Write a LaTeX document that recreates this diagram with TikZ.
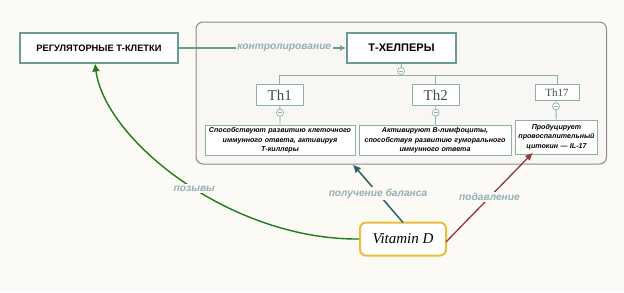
\documentclass[tikz,border=0pt]{standalone}
\usepackage{fontspec}
\setmainfont{Liberation Serif}
\newfontfamily\hsans{Liberation Sans}
\usetikzlibrary{arrows.meta,calc}
\definecolor{bgc}{HTML}{FCFAF4}
\definecolor{contc}{HTML}{F8F7F3}
\definecolor{contb}{HTML}{8C8C8C}
\definecolor{tealb}{HTML}{6B9A94}
\definecolor{teall}{HTML}{8DB0A9}
\definecolor{lblc}{HTML}{93AFB9}
\definecolor{greenc}{HTML}{1E7B1E}
\definecolor{darkt}{HTML}{2E5E6C}
\definecolor{redc}{HTML}{8B3A3A}
\definecolor{yelc}{HTML}{EBBE3A}
\definecolor{thc}{HTML}{4A4A4A}
\tikzset{
  mainbox/.style={draw=tealb, line width=2pt, fill=white, minimum height=30pt, inner sep=0pt},
  thbox/.style={draw=teall, line width=0.9pt, fill=white, inner sep=0pt, text=thc},
  descbox/.style={draw=teall, line width=0.9pt, fill=white, inner sep=0pt, align=center, font=\hsans\bfseries\itshape\fontsize{7.1}{9.3}\selectfont},
  mcirc/.style={circle, draw=teall, line width=0.7pt, fill=white, minimum size=7pt, inner sep=0pt, path picture={\draw[teall, line width=0.6pt] ($(path picture bounding box.center)+(-1.8pt,0)$) -- ($(path picture bounding box.center)+(1.8pt,0)$);}},
  tline/.style={draw=teall, line width=0.9pt},
  lbl/.style={fill=bgc, inner sep=1.5pt, text=lblc, font=\hsans\bfseries\itshape\fontsize{10.2}{12}\selectfont},
}
\begin{document}
\begin{tikzpicture}[x=1pt,y=-1pt]
\useasboundingbox (0,0) rectangle (624,292);
\fill[bgc] (0,0) rectangle (624,292);
\draw[contb, line width=1pt, fill=contc, rounded corners=7pt] (196,22) rectangle (606.5,164);

\node[mainbox, minimum width=158pt, font=\hsans\bfseries\fontsize{9.3}{11}\selectfont] (reg) at (99,48) {РЕГУЛЯТОРНЫЕ Т-КЛЕТКИ};
\node[mainbox, minimum width=109pt, font=\hsans\bfseries\fontsize{11}{13}\selectfont] (helper) at (401.5,48) {Т-ХЕЛПЕРЫ};

\node[mcirc] (c0) at (401,71) {};
\coordinate (j) at (401,75.5);
\node[thbox, minimum width=47pt, minimum height=21.5pt, font=\fontsize{15}{16}\selectfont] (th1) at (279.7,95.1) {Th1};
\node[thbox, minimum width=47pt, minimum height=21.5pt, font=\fontsize{15}{16}\selectfont] (th2) at (435.8,95.1) {Th2};
\node[thbox, minimum width=44pt, minimum height=16.5pt, font=\fontsize{11}{12}\selectfont] (th17) at (557,92.6) {Th17};
\node[mcirc] (c1) at (280,112.7) {};
\node[mcirc] (c2) at (435.7,112.7) {};
\node[mcirc] (c3) at (556,106.3) {};

\node[descbox, minimum width=150pt, minimum height=30.5pt, text width=148pt] (d1) at (280,140.4) {Способствуют развитию клеточного\\иммунного ответа, активируя\\Т-киллеры};
\node[descbox, minimum width=152pt, minimum height=30.5pt, text width=150pt] (d2) at (435,140.4) {Активируют B-лимфоциты,\\способствуя развитию гуморального\\иммунного ответа};
\node[descbox, minimum width=82pt, minimum height=34pt, text width=80pt] (d3) at (556.5,137) {Продуцирует\\провоспалительный\\цитокин — IL-17};

\draw[tline] (helper.south) -- (c0);
\draw[tline] (c0) -- (j);
\draw[tline] (j) -| (th1.north);
\draw[tline] (j) -| (th2.north);
\draw[tline] (j) -| (th17.north);
\draw[tline] (th1) -- (c1) -- (d1);
\draw[tline] (th2) -- (c2) -- (d2);
\draw[tline] (th17) -- (c3) -- (d3);

\draw[tealb, line width=1.5pt, -{Latex[length=6pt,width=6pt]}] (reg.east) -- node[lbl, fill=contc, pos=0.63] {контролирование} (helper.west);

\node[draw=yelc, line width=2pt, fill=white, rounded corners=6pt, minimum width=86pt, minimum height=33pt, inner sep=0pt, font=\itshape\fontsize{15}{16}\selectfont] (vit) at (403,239) {Vitamin D};

\coordinate (gtip) at (95,63.5);
\coordinate (btip) at (353,164.5);
\coordinate (rtip) at (533,152.5);
\coordinate (vtop) at (403,222.5);
\coordinate (vright) at (446,242);

\draw[greenc, line width=1.4pt, -{Latex[length=8pt,width=8pt]}] (vit.west) .. controls (230,240) and (105,140) .. node[lbl, pos=0.46] {позывы} (gtip);
\draw[darkt, line width=1.5pt, -{Latex[length=8pt,width=8pt]}] (vtop) -- node[lbl, pos=0.5] {получение баланса} (btip);
\draw[redc, line width=1.3pt, -{Latex[length=8pt,width=7pt]}] (vright) -- node[lbl, pos=0.5] {подавление} (rtip);
\end{tikzpicture}
\end{document}
